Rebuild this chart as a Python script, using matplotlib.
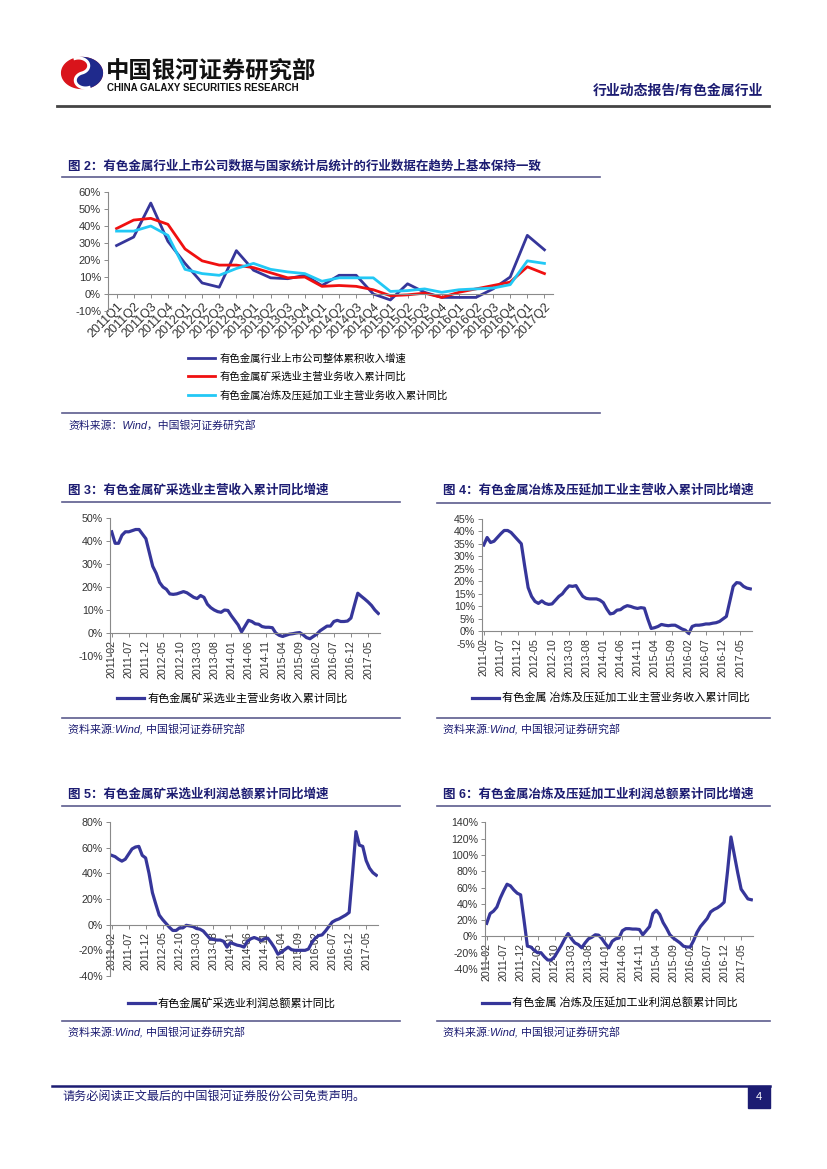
import matplotlib
matplotlib.use('Agg')
import matplotlib.pyplot as plt
from matplotlib.lines import Line2D
from matplotlib.patches import Rectangle, Polygon
import numpy as np

plt.rcParams['font.family'] = ['Liberation Sans', 'Noto Sans CJK SC', 'DejaVu Sans']
plt.rcParams['axes.unicode_minus'] = False

W, H = 827, 1169

# ---- data: figure 2 (quarterly, %)
quarters = ['2011Q1', '2011Q2', '2011Q3', '2011Q4', '2012Q1', '2012Q2', '2012Q3',
            '2012Q4', '2013Q1', '2013Q2', '2013Q3', '2013Q4', '2014Q1', '2014Q2',
            '2014Q3', '2014Q4', '2015Q1', '2015Q2', '2015Q3', '2015Q4', '2016Q1',
            '2016Q2', '2016Q3', '2016Q4', '2017Q1', '2017Q2']
listed_rev = [28.5, 33.5, 53.5, 31, 18, 6.5, 4, 25.5, 14, 9.5, 9, 11, 5, 11, 11,
              0, -3.5, 6, 1, -2, -2, -2, 3, 10, 34.5, 26]
mining_rev_q = [38.5, 43.5, 44.5, 41, 26.5, 19.5, 17, 17, 15.5, 12.5, 9.5, 10,
                4.5, 5, 4.5, 2.5, -1, -0.5, 0.5, -2, 1, 3, 5, 7, 16, 12]
smelt_rev_q = [37, 37, 40, 34.5, 14.5, 12, 11, 15, 18, 14.5, 13, 12, 7.5, 9.5,
               9.5, 9.5, 1.5, 2, 3, 1, 2.5, 3, 3.5, 5.5, 19.5, 18]

# ---- data: figures 3-6 (monthly 2011-02 .. 2017-08, %)
months = [f'{y}-{m:02d}' for y in range(2011, 2018) for m in range(1, 13)][1:80]

mining_rev = [44, 39, 39, 42.5, 44, 44, 44.5, 45, 45, 43, 41, 35, 29, 26, 22, 20,
              19, 17, 16.8, 17, 17.5, 18, 17.5, 16.5, 15.5, 15, 16.3, 15.5, 12.5,
              11, 10, 9.3, 9, 10, 9.8, 7.5, 5.5, 3.5, 0.5, 3, 5.5, 5, 4, 3.8, 2.8,
              2.5, 2.5, 2.3, 0, -1, -1.5, -1, -0.5, -0.3, 0, 0.2, -0.8, -2, -2.5,
              -1.5, -0.5, 1, 2, 3, 3, 5, 5.5, 5, 5, 5.2, 6.5, 12, 17.3, 16, 14.8,
              13.5, 12, 10, 8.5]
smelt_rev = [34.5, 37.5, 35.5, 36, 37.5, 39, 40.3, 40.3, 39.5, 38, 36.5, 35, 26,
             17.5, 14, 12, 11.2, 12.2, 11.2, 10.8, 11, 12.5, 14, 15, 16.8, 18.2,
             18, 18.3, 16, 14, 13.2, 13, 13, 13, 12.5, 11.5, 9, 7, 7.3, 8.5, 8.7,
             9.7, 10.3, 10, 9.5, 9.2, 9.5, 9.3, 5, 1.2, 1.5, 2, 2.8, 2.5, 2.3, 2.5,
             2.5, 1.8, 1, 0.5, -0.8, 2, 2.5, 2.5, 2.7, 3, 3, 3.3, 3.5, 4, 5, 6, 12,
             18, 19.5, 19.3, 18, 17.3, 17]
mining_profit = [54, 53, 51, 49.5, 51, 55, 59, 60.5, 61, 54, 52, 40, 25, 16, 7.5,
                 4, 1, -2, -4.5, -4.5, -2.5, -2.5, -0.5, -1, -1.5, -3, -3.5, -5,
                 -8, -11, -11.5, -12, -12, -13, -17.5, -14, -15, -16, -16.5, -17.5,
                 -13, -11, -10, -11, -12.5, -11, -10.5, -14, -18, -23, -21.5, -19.5,
                 -17.5, -19.5, -20, -20, -20, -20, -19, -14, -10.5, -8.5, -8, -5,
                 -1.5, 2, 3.5, 4.5, 6, 7.5, 9.5, 40, 72.5, 62, 61, 50, 44, 40.5, 38.5]
smelt_profit = [16, 28, 31, 36, 47, 56, 64, 62, 57, 53, 51, 20, -12, -13, -17, -20,
                -20, -25, -29, -29, -25, -18, -11, -3, 3.5, -3, -8, -10, -14, -8,
                -3, -1, 2, 1.5, -3, -9, -14, -6, -3, -2, 7, 9.5, 9.5, 9, 9, 8.5, 2,
                7, 12, 28, 32, 27, 17, 10, 2, -2, -5, -8, -12, -13, -13, -5, 5, 12,
                17, 22, 30, 33, 35, 38, 42, 80, 122, 100, 78, 58, 52, 46, 45]

NAVY = '#1c1c72'
LINE_BLUE = '#36369a'
RED = '#f01010'
CYAN = '#22c8f5'
RULE = '#5c5c8e'
TICK = '#333333'


def rect(x0, y0, x1, y1):
    return [x0 / W, 1 - y1 / H, (x1 - x0) / W, (y1 - y0) / H]


def hline(y, x0, x1, color=RULE, lw=1.2):
    fig.add_artist(Line2D([x0 / W, x1 / W], [1 - y / H, 1 - y / H],
                          transform=fig.transFigure, color=color, lw=lw))


def txt(x, y, s, **kw):
    fig.text(x / W, 1 - y / H, s, va='center', **kw)


def style_axes(ax, ylim, ystep, fs):
    ax.set_ylim(*ylim)
    ax.set_yticks(np.arange(ylim[0], ylim[1] + 0.1, ystep))
    ax.yaxis.set_major_formatter(lambda v, p: f'{v:.0f}%')
    for s in ['top', 'right']:
        ax.spines[s].set_visible(False)
    ax.spines['bottom'].set_position(('data', 0))
    for s in ['left', 'bottom']:
        ax.spines[s].set_color('#8a8a8a')
        ax.spines[s].set_linewidth(0.8)
    ax.tick_params(axis='y', labelsize=fs, colors='#8a8a8a', labelcolor=TICK,
                   length=3, width=0.7, pad=2)
    ax.tick_params(axis='x', colors='#8a8a8a', labelcolor=TICK,
                   length=3, width=0.7, pad=2)
    ax.patch.set_alpha(0)


fig = plt.figure(figsize=(W / 100, H / 100), dpi=100)

# ---- header logo: red crescent on the left, blue swirl on the right
logo = fig.add_axes(rect(60, 56, 104, 90))
logo.set_xlim(-1.35, 1.35)
logo.set_ylim(-1.1, 1.1)
logo.axis('off')
t = np.linspace(0, 2 * np.pi, 120)
rot = np.deg2rad(20)
R = np.array([[np.cos(rot), -np.sin(rot)], [np.sin(rot), np.cos(rot)]])


def shape(pts):
    p = R @ pts
    p[0] *= 1.25
    return p.T


logo.add_patch(Polygon(shape(np.vstack([np.cos(t), np.sin(t)])), color='#d9141b'))
a1 = np.linspace(np.pi / 2, -np.pi / 2, 60)
a2 = np.linspace(-np.pi / 2, -3 * np.pi / 2, 60)
a3 = np.linspace(-np.pi / 2, np.pi / 2, 60)
bx = np.concatenate([np.cos(a1), 0.5 * np.cos(a2), 0.5 * np.cos(a3)])
by = np.concatenate([np.sin(a1), -0.5 + 0.5 * np.sin(a2), 0.5 + 0.5 * np.sin(a3)])
logo.add_patch(Polygon(shape(np.vstack([bx, by])), color='#1f2a8c'))
sx = np.concatenate([0.5 * np.cos(a2), 0.5 * np.cos(a3)])
sy = np.concatenate([-0.5 + 0.5 * np.sin(a2), 0.5 + 0.5 * np.sin(a3)])
s = shape(np.vstack([sx, sy]))
logo.plot(s[:, 0], s[:, 1], color='white', lw=2.2)

txt(106, 71, '中国银河证券研究部', fontsize=16.8, fontweight='bold', color='#111111')
txt(107, 88, 'CHINA GALAXY SECURITIES RESEARCH', fontsize=7, fontweight='bold',
    color='#111111')
txt(763, 91, '行业动态报告/有色金属行业', fontsize=10, fontweight='bold',
    color=NAVY, ha='right')
hline(105.5, 57, 769, color='#444444', lw=2)

# ---- figure 2
txt(68, 166, '图 2：有色金属行业上市公司数据与国家统计局统计的行业数据在趋势上基本保持一致',
    fontsize=9, fontweight='bold', color=NAVY)
hline(177, 62, 600)
ax = fig.add_axes(rect(108, 192, 553, 311))
xq = np.arange(len(quarters))
ax.plot(xq, listed_rev, color=LINE_BLUE, lw=2, label='有色金属行业上市公司整体累积收入增速')
ax.plot(xq, mining_rev_q, color=RED, lw=2, label='有色金属矿采选业主营业务收入累计同比')
ax.plot(xq, smelt_rev_q, color=CYAN, lw=2, label='有色金属冶炼及压延加工业主营业务收入累计同比')
ax.set_xlim(-0.5, len(quarters) - 0.5)
style_axes(ax, (-10, 60), 10, 8)
ax.set_xticks(xq)
ax.set_xticklabels(quarters, rotation=45, ha='right', rotation_mode='anchor',
                   fontsize=9)
ax.legend(loc='center left', bbox_to_anchor=(188 / W, 1 - 377 / H),
          bbox_transform=fig.transFigure, frameon=False, fontsize=7.5,
          handlelength=2.6, handletextpad=0.4, labelspacing=0.75,
          borderpad=0, borderaxespad=0)
hline(413, 62, 600)
txt(68, 425, '资料来源：Wind，中国银河证券研究部', fontsize=7.8, color=NAVY,
    style='italic')


# ---- figures 3-6
def month_chart(title, tx, box, values, ylim, ystep, label, leg_x, leg_y, src_y,
                line_x):
    top = box[1] - 28
    txt(tx, top, title, fontsize=9, fontweight='bold', color=NAVY)
    hline(top + 12, line_x[0], line_x[1])
    ax = fig.add_axes(rect(*box))
    xm = np.arange(len(months))
    ax.plot(xm, values, color=LINE_BLUE, lw=2.3, solid_joinstyle='round', label=label)
    ax.set_xlim(-0.5, len(months) - 0.5)
    style_axes(ax, ylim, ystep, 7.7)
    ax.set_xticks(xm[::5])
    ax.set_xticklabels(months[::5], rotation=90, ha='center', va='top', fontsize=7.7)
    ax.legend(loc='center left', bbox_to_anchor=(leg_x / W, 1 - leg_y / H),
              bbox_transform=fig.transFigure, frameon=False, fontsize=8,
              handlelength=2.4, handletextpad=0.3, borderpad=0, borderaxespad=0)
    hline(src_y - 12, line_x[0], line_x[1])
    txt(tx, src_y, '资料来源:Wind, 中国银河证券研究部', fontsize=7.9, color=NAVY,
        style='italic')


month_chart('图 3：有色金属矿采选业主营收入累计同比增速', 68, (110, 518, 380, 656),
            mining_rev, (-10, 50), 10, '有色金属矿采选业主营业务收入累计同比',
            117, 698, 730, (62, 400))
month_chart('图 4：有色金属冶炼及压延加工业主营收入累计同比增速', 443,
            (482, 518.7, 752, 644), smelt_rev, (-5, 45), 5,
            '有色金属 冶炼及压延加工业主营业务收入累计同比', 472, 698, 730, (437, 770))
month_chart('图 5：有色金属矿采选业利润总额累计同比增速', 68, (110, 822, 378, 976),
            mining_profit, (-40, 80), 20, '有色金属矿采选业利润总额累计同比',
            128, 1003, 1033, (62, 400))
month_chart('图 6：有色金属冶炼及压延加工业利润总额累计同比增速', 443,
            (485, 822.3, 753, 969), smelt_profit, (-40, 140), 20,
            '有色金属 冶炼及压延加工业利润总额累计同比', 482, 1003, 1033, (437, 770))

# ---- footer
hline(1086, 52, 770, color=NAVY, lw=1.8)
txt(62, 1097, '请务必阅读正文最后的中国银河证券股份公司免责声明。', fontsize=8.7, color=NAVY)
fig.add_artist(Rectangle((748 / W, 1 - 1108 / H), 22 / W, 22 / H,
                         transform=fig.transFigure, color=NAVY))
txt(759, 1097, '4', fontsize=8, color='white', ha='center')

fig.savefig('out.png', dpi=100)
